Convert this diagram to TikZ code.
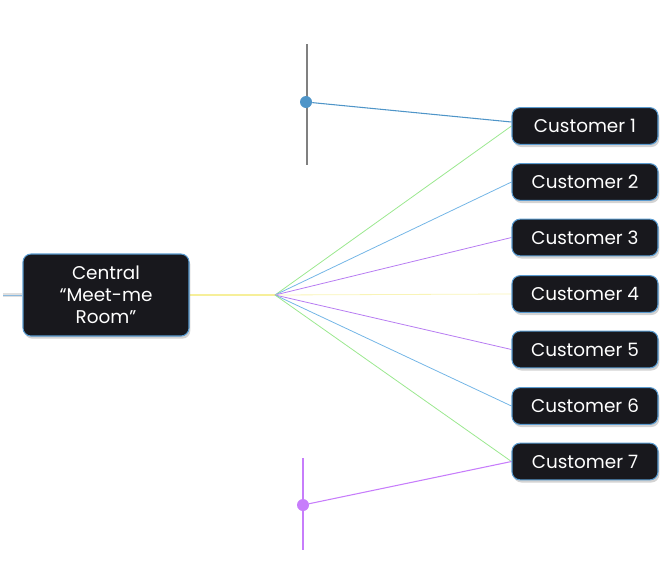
\documentclass[tikz,border=0pt]{standalone}
\usepackage{fontspec}
\setmainfont{Poppins}
\usetikzlibrary{shadows,backgrounds}
\definecolor{boxfill}{HTML}{18181D}
\definecolor{boxline}{HTML}{5A9BD0}
\definecolor{lgreen}{HTML}{9BE88F}
\definecolor{lblue}{HTML}{74B6E6}
\definecolor{lpurple}{HTML}{B77CF2}
\definecolor{lyellow}{HTML}{F2E86E}
\definecolor{dotblue}{HTML}{4F95C8}
\definecolor{dotpurple}{HTML}{C77DFB}
\tikzset{
  box/.style={draw=boxline, line width=0.8pt, fill=boxfill, text=white, rounded corners=6pt,
    drop shadow={opacity=0.35, shadow xshift=1pt, shadow yshift=-2pt},
    font=\fontsize{13.8}{16.5}\selectfont, inner sep=0pt, align=center},
  cust/.style={box, minimum width=109.5pt, minimum height=27.5pt},
  link/.style={line width=0.6pt}
}
\begin{document}
\begin{tikzpicture}[x=0.75pt,y=-0.75pt]
\useasboundingbox (0,0) rectangle (666,568);
\node[box, minimum width=124.5pt, minimum height=61.5pt] (central) at (106,295)
  {Central\\“Meet-me\\Room”};
\node[cust] (c1) at (585,126) {Customer 1};
\node[cust] (c2) at (585,182) {Customer 2};
\node[cust] (c3) at (585,237.5) {Customer 3};
\node[cust] (c4) at (585,294) {Customer 4};
\node[cust] (c5) at (585,349.5) {Customer 5};
\node[cust] (c6) at (585,406) {Customer 6};
\node[cust] (c7) at (585,461.5) {Customer 7};
\coordinate (hub) at (275,295);
\coordinate (stub) at (3,295);
\coordinate (t1) at (307,44);
\coordinate (t2) at (307,165);
\coordinate (b1) at (303,458);
\coordinate (b2) at (303,550);
\node[circle, fill=dotblue, inner sep=0pt, minimum size=9pt] (d1) at (306,102) {};
\node[circle, fill=dotpurple, inner sep=0pt, minimum size=9pt] (d2) at (303,505) {};
\begin{scope}[on background layer]
\draw[gray!25, line width=2.5pt] (stub) -- (central.west);
\draw[boxline!70, line width=0.5pt] (stub) -- (central.west);
\draw[lyellow!70!white, line width=0.8pt] (central.east) -- (hub);
\draw[lgreen, link] (hub) -- (c1.west);
\draw[lblue, link] (hub) -- (c2.west);
\draw[lpurple, link] (hub) -- (c3.west);
\draw[lyellow!50!white, link] (hub) -- (c4.west);
\draw[lpurple, link] (hub) -- (c5.west);
\draw[lblue, link] (hub) -- (c6.west);
\draw[lgreen, link] (hub) -- (c7.west);
\draw[gray, line width=0.8pt] (t1) -- (t2);
\draw[dotblue, line width=0.8pt] (d1) -- ([yshift=3pt]c1.west);
\draw[dotpurple, line width=1pt] (b1) -- (b2);
\draw[dotpurple, line width=0.8pt] (d2) -- (c7.west);
\end{scope}
\end{tikzpicture}
\end{document}
